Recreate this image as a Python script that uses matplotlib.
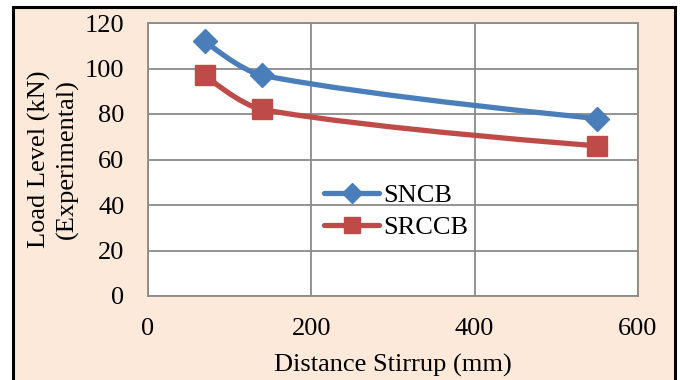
import numpy as np
import matplotlib.pyplot as plt
from matplotlib.patches import Rectangle
from matplotlib.path import Path
from matplotlib.patches import PathPatch

# data
distance = [70, 140, 550]
sncb = [112, 97, 78]
srccb = [97, 82, 66]

plt.rcParams['font.family'] = ['Liberation Serif', 'DejaVu Serif']

fig = plt.figure(figsize=(6.8, 3.8), dpi=100)
fig.patch.set_facecolor('white')

# peach chart area with black frame
W, H = 680, 380
frame = Rectangle((13 / W, -0.05), (675 - 13) / W, (380 - 7) / H + 0.05,
                  transform=fig.transFigure, facecolor='#FDE9D9',
                  edgecolor='black', linewidth=2.2, zorder=-5)
fig.patches.append(frame)

ax = fig.add_axes([148 / W, 1 - 296 / H, (638 - 148) / W, (296 - 23) / H])
ax.set_zorder(1)
ax.set_facecolor('white')
ax.set_xlim(0, 600)
ax.set_ylim(0, 120)
ax.set_xticks([0, 200, 400, 600])
ax.set_yticks(np.arange(0, 121, 20))
ax.grid(True, color='#8a8a8a', linewidth=1.3)
ax.set_axisbelow(True)
for s in ax.spines.values():
    s.set_color('#8a8a8a')
    s.set_linewidth(1.3)
ax.tick_params(length=0, labelsize=19)
ax.tick_params(axis='x', pad=16)
ax.tick_params(axis='y', pad=17)
ax.set_xlabel('Distance Stirrup (mm)', fontsize=19, labelpad=10)
ax.set_ylabel('Load Level (kN)\n(Experimental)', fontsize=19, labelpad=4,
              linespacing=1.3)


def smooth_path(xs, ys, k=0.33):
    # excel-like smoothing done in screen space
    pts = ax.transData.transform(np.column_stack([xs, ys]))
    n = len(pts)
    verts = [pts[0]]
    codes = [Path.MOVETO]
    tang = []
    for i in range(n):
        if i == 0:
            d = pts[1] - pts[0]
        elif i == n - 1:
            d = pts[-1] - pts[-2]
        else:
            d = pts[i + 1] - pts[i - 1]
        tang.append(d / np.linalg.norm(d))
    for i in range(n - 1):
        seg = np.linalg.norm(pts[i + 1] - pts[i])
        c1 = pts[i] + tang[i] * seg * k if i > 0 else pts[i]
        c2 = pts[i + 1] - tang[i + 1] * seg * k if i + 1 < n - 1 else pts[i + 1]
        verts += [c1, c2, pts[i + 1]]
        codes += [Path.CURVE4] * 3
    verts = ax.transData.inverted().transform(np.array(verts))
    return Path(verts, codes)


series = [(sncb, 'SNCB', '#4A7EBB', 'D', 12),
          (srccb, 'SRCCB', '#BE4B48', 's', 14)]
for vals, name, col, mk, ms in series:
    ax.add_patch(PathPatch(smooth_path(distance, vals), facecolor='none',
                           edgecolor=col, linewidth=3.8, zorder=3,
                           capstyle='round'))
    ax.plot(distance, vals, linestyle='none', marker=mk, markersize=ms,
            color=col, zorder=4)
    ax.plot([], [], color=col, linewidth=3.8, marker=mk, markersize=ms - 2,
            label=name, solid_capstyle='round')

ax.legend(loc='upper left', bbox_to_anchor=(176 / 490, 1 - (184 - 23) / 273),
          frameon=False, fontsize=19, handlelength=2.1, handletextpad=0.15,
          labelspacing=0.3, borderpad=0, borderaxespad=0)

fig.savefig('out.png', dpi=100)
